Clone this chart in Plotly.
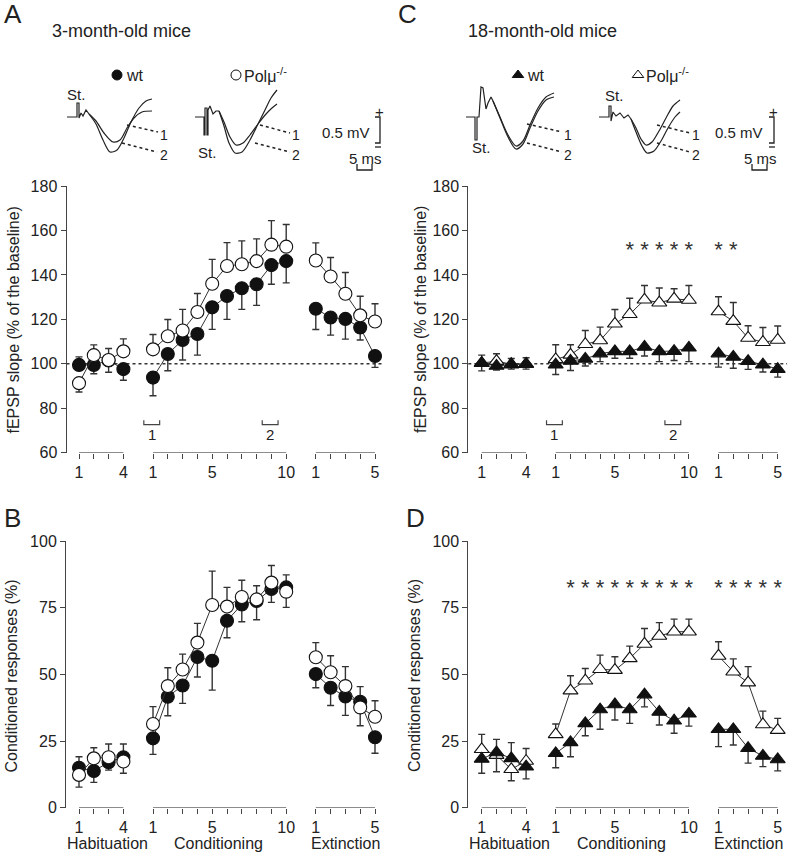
import plotly.graph_objects as go

FONT = "Liberation Sans, Arial, sans-serif"
TXT = "#222222"
AX = "#444444"
W, H = 788, 857

# ---------------- data ----------------
HAB = [1, 2, 3, 4]
COND = [1, 2, 3, 4, 5, 6, 7, 8, 9, 10]
EXT = [1, 2, 3, 4, 5]
HAB_LABELS = ["1", "", "", "4"]
COND_LABELS = ["1", "", "", "", "5", "", "", "", "", "10"]
EXT_LABELS = ["1", "", "", "", "5"]

# Panel A: fEPSP slope, 3-month-old (hab 1-4, cond 1-10, ext 1-5)
A_wt_mean = [99.5, 99.5, 101.5, 97.6,
             93.8, 104.4, 110.7, 113.4, 125.4, 130.5, 134.0, 135.8, 144.4, 146.2,
             124.8, 120.8, 120.2, 116.3, 103.5]
A_wt_eplus = [3.6, 0, 0, 0,
              0, 0, 0, 0, 0, 0, 0, 0, 0, 0,
              0, 0, 0, 0, 0]
A_wt_eminus = [0, 4.0, 5.3, 5.0,
               8.2, 7.5, 9.0, 9.5, 9.9, 10.5, 9.5, 9.5, 8.6, 9.8,
               9.4, 7.9, 9.1, 5.6, 5.1]
A_ko_mean = [91.3, 103.9, 101.7, 105.6,
             106.5, 112.4, 115.0, 123.3, 136.0, 144.0, 144.8, 146.2, 153.6, 152.7,
             146.5, 139.3, 131.5, 121.8, 119.0]
A_ko_eplus = [0, 4.6, 5.2, 5.6,
              6.7, 7.5, 9.5, 8.3, 11.0, 10.5, 10.5, 10.0, 10.8, 10.0,
              7.9, 8.5, 9.6, 8.6, 8.0]
A_ko_eminus = [4.0, 0, 0, 0,
               0, 0, 0, 0, 0, 0, 0, 0, 0, 0,
               0, 0, 0, 0, 0]

# Panel B: conditioned responses, 3-month-old
B_wt_mean = [15.0, 13.75, 17.0, 18.9,
             26.0, 41.6, 45.8, 56.5, 55.1, 70.1, 76.2, 77.5, 82.0, 82.6,
             50.1, 45.0, 41.7, 39.7, 26.4]
B_wt_eplus = [4.1, 0, 0, 5.0,
              0, 0, 0, 0, 0, 0, 0, 0, 0, 4.7,
              0, 0, 0, 5.7, 0]
B_wt_eminus = [0, 4.25, 2.9, 0,
               6.0, 7.1, 6.7, 7.5, 11.0, 6.4, 6.5, 7.0, 5.0, 0,
               5.1, 6.7, 7.1, 0, 6.0]
B_ko_mean = [12.3, 18.5, 18.9, 17.3,
             31.4, 45.6, 51.8, 61.9, 76.0, 75.4, 79.0, 78.1, 84.4, 81.0,
             56.4, 50.8, 45.6, 37.6, 34.1]
B_ko_eplus = [0, 4.0, 5.0, 0,
              6.5, 6.9, 5.8, 7.2, 12.7, 7.2, 6.3, 5.1, 6.4, 0,
              5.5, 6.2, 7.3, 0, 6.0]
B_ko_eminus = [4.6, 0, 0, 4.4,
               0, 0, 0, 0, 0, 0, 0, 0, 0, 5.9,
               0, 0, 0, 6.9, 0]

# Panel C: fEPSP slope, 18-month-old
C_wt_mean = [100.3, 99.0, 99.6, 99.8,
             99.6, 101.3, 102.2, 104.6, 105.6, 105.6, 107.6, 105.6, 105.7, 107.2,
             104.6, 103.1, 101.2, 99.6, 97.6]
C_wt_eplus = [0] * 19
C_wt_eminus = [3.5, 1.8, 2.0, 2.2,
               4.4, 4.3, 3.2, 3.6, 3.1, 3.1, 4.1, 4.6, 4.2, 6.2,
               6.1, 5.1, 3.7, 3.3, 3.6]
C_ko_mean = [100.3, 101.2, 99.8, 100.0,
             102.0, 104.0, 108.8, 110.5, 118.0, 122.3, 128.8, 127.5, 129.2, 128.7,
             123.5, 119.2, 111.6, 109.7, 110.7]
C_ko_eplus = [3.6, 3.3, 2.6, 2.7,
              6.6, 4.6, 6.2, 6.0, 6.4, 7.2, 6.4, 6.6, 4.6, 6.5,
              6.7, 8.4, 5.5, 6.6, 6.3]
C_ko_eminus = [0] * 19

# Panel D: conditioned responses, 18-month-old
D_wt_mean = [18.3, 20.7, 18.5, 15.4,
             20.4, 24.5, 31.6, 36.8, 38.7, 36.8, 42.4, 35.9, 32.6, 35.2,
             29.4, 29.4, 22.3, 19.4, 18.1]
D_wt_eplus = [0, 0, 5.9, 0,
              0, 0, 0, 0, 0, 0, 0, 0, 0, 0,
              0, 0, 0, 0, 0]
D_wt_eminus = [5.4, 7.2, 0, 4.6,
               5.4, 5.4, 4.6, 7.4, 5.8, 5.2, 4.6, 4.9, 4.7, 4.6,
               6.5, 5.9, 5.6, 4.0, 4.3]
D_ko_mean = [21.9, 19.7, 14.4, 17.5,
             27.5, 43.9, 47.6, 51.9, 51.6, 56.0, 61.4, 64.4, 66.0, 66.0,
             56.9, 51.0, 46.9, 31.2, 29.1]
D_ko_eplus = [5.6, 5.9, 0, 4.7,
              3.9, 5.6, 4.6, 5.3, 5.0, 4.6, 5.8, 5.0, 4.7, 4.7,
              5.3, 4.8, 6.0, 5.0, 4.4]
D_ko_eminus = [0, 0, 4.3, 0,
               0, 0, 0, 0, 0, 0, 0, 0, 0, 0,
               0, 0, 0, 0, 0]

# significance marks (session numbers)
C_star_cond = [6, 7, 8, 9, 10]
C_star_ext = [1, 2]
D_star_cond = [2, 3, 4, 5, 6, 7, 8, 9, 10]
D_star_ext = [1, 2, 3, 4, 5]

# ---------------- positions on broken axis ----------------
GAP = 1
hab_pos = [s - 1 for s in HAB]
cond_pos = [hab_pos[-1] + 1 + GAP + (s - 1) for s in COND]
ext_pos = [cond_pos[-1] + 1 + GAP + (s - 1) for s in EXT]
ALL_POS = hab_pos + cond_pos + ext_pos
ALL_TXT = HAB_LABELS + COND_LABELS + EXT_LABELS
MAJ_POS = [p for p, t in zip(ALL_POS, ALL_TXT) if t]
MAJ_TXT = [t for t in ALL_TXT if t]
MIN_POS = [p for p, t in zip(ALL_POS, ALL_TXT) if not t]


def gapped(v):
    n1, n2 = len(HAB), len(HAB) + len(COND)
    return list(v[:n1]) + [None] + list(v[n1:n2]) + [None] + list(v[n2:])


XG = gapped(ALL_POS)


def PX(x):
    return x / W


def PY(y):
    return 1 - y / H


def note(x, y, text, size=16, xa="center", ya="middle", xref="paper", yref="paper", angle=0):
    return dict(xref=xref, yref=yref, x=x, y=y, text=text, showarrow=False,
                xanchor=xa, yanchor=ya, textangle=angle,
                font=dict(size=size, color=TXT, family=FONT))


STEP = 14.8
panels = {
    "A": dict(xa="x", ya="y", left=66.5, right=383.0, x0=79.0, top=186.0, bottom=452.7,
              yr=[60, 180], yt=[60, 80, 100, 120, 140, 160, 180]),
    "B": dict(xa="x2", ya="y2", left=66.0, right=383.0, x0=79.0, top=541.0, bottom=807.7,
              yr=[0, 100], yt=[0, 25, 50, 75, 100]),
    "C": dict(xa="x3", ya="y3", left=468.3, right=787.0, x0=481.7, top=186.0, bottom=452.7,
              yr=[60, 180], yt=[60, 80, 100, 120, 140, 160, 180]),
    "D": dict(xa="x4", ya="y4", left=468.3, right=787.0, x0=481.7, top=541.0, bottom=807.7,
              yr=[0, 100], yt=[0, 25, 50, 75, 100]),
}

fig = go.Figure()
layout = dict(width=W, height=H, margin=dict(l=0, r=0, t=0, b=0, autoexpand=False),
              paper_bgcolor="white", plot_bgcolor="rgba(0,0,0,0)", showlegend=False,
              font=dict(family=FONT, color=TXT, size=16))
shapes = []
annotations = []

for key, p in panels.items():
    xr = [(p["left"] - p["x0"]) / STEP, (p["right"] - p["x0"]) / STEP]
    xname = "xaxis" + p["xa"][1:]
    yname = "yaxis" + p["ya"][1:]
    layout[xname] = dict(domain=[PX(p["left"]), PX(p["right"])], range=xr, anchor=p["ya"],
                         tickmode="array", tickvals=MAJ_POS, ticktext=MAJ_TXT,
                         ticks="outside", ticklen=5, tickwidth=1, tickcolor=AX,
                         minor=dict(tickmode="array", tickvals=MIN_POS, ticks="outside",
                                    ticklen=5, tickwidth=1, tickcolor=AX, showgrid=False),
                         showline=False, showgrid=False, zeroline=False,
                         tickfont=dict(size=16, color=TXT, family=FONT),
                         automargin=False, fixedrange=True)
    layout[yname] = dict(domain=[PY(p["bottom"]), PY(p["top"])], range=p["yr"], anchor=p["xa"],
                         tickvals=p["yt"], ticks="outside", ticklen=5, tickwidth=1,
                         tickcolor=AX, showline=True, linecolor=AX, linewidth=1,
                         showgrid=False, zeroline=False, automargin=False,
                         tickfont=dict(size=16, color=TXT, family=FONT), fixedrange=True)
    # broken x-axis baseline segments
    for seg in (hab_pos, cond_pos, ext_pos):
        shapes.append(dict(type="line", xref=p["xa"], yref=p["ya"], x0=seg[0], x1=seg[-1],
                           y0=p["yr"][0], y1=p["yr"][0], line=dict(color=AX, width=1)))

# baseline dotted lines (100 %)
for key in ("A", "C"):
    p = panels[key]
    shapes.append(dict(type="line", xref=p["xa"] + " domain", yref=p["ya"], x0=0, x1=1,
                       y0=100, y1=100, layer="below",
                       line=dict(color="#333333", width=1.6, dash="dot")))

# brackets marking sessions used for sample records
for key in ("A", "C"):
    p = panels[key]
    for c, lab in ((cond_pos[0], "1"), (cond_pos[8], "2")):
        a, b = c - 0.62, c + 0.45
        shapes.append(dict(type="path", xref=p["xa"], yref=p["ya"],
                           path=f"M {a},74.6 L {a},72.6 L {b},72.6 L {b},74.6",
                           line=dict(color=AX, width=1.2)))
        annotations.append(note((a + b) / 2, 68, lab, 15, xref=p["xa"], yref=p["ya"]))


def add_series(key, mean, ep, em, symbol, filled):
    p = panels[key]
    fig.add_trace(go.Scatter(
        x=XG, y=gapped(mean), xaxis=p["xa"], yaxis=p["ya"], mode="lines+markers",
        line=dict(color="#333333", width=1),
        marker=dict(symbol=symbol, size=13,
                    color="#111111" if filled else "white",
                    line=dict(color="#111111", width=1.1)),
        error_y=dict(type="data", symmetric=False, array=gapped(ep), arrayminus=gapped(em),
                     color="#333333", thickness=1.4, width=3.5),
        cliponaxis=False, hoverinfo="skip"))


add_series("A", A_wt_mean, A_wt_eplus, A_wt_eminus, "circle", True)
add_series("A", A_ko_mean, A_ko_eplus, A_ko_eminus, "circle", False)
add_series("B", B_wt_mean, B_wt_eplus, B_wt_eminus, "circle", True)
add_series("B", B_ko_mean, B_ko_eplus, B_ko_eminus, "circle", False)
add_series("C", C_ko_mean, C_ko_eplus, C_ko_eminus, "triangle-up", False)
add_series("C", C_wt_mean, C_wt_eplus, C_wt_eminus, "triangle-up", True)
add_series("D", D_ko_mean, D_ko_eplus, D_ko_eminus, "triangle-up", False)
add_series("D", D_wt_mean, D_wt_eplus, D_wt_eminus, "triangle-up", True)


def add_stars(key, cond_s, ext_s, level):
    p = panels[key]
    xs = [cond_pos[s - 1] for s in cond_s] + [ext_pos[s - 1] for s in ext_s]
    fig.add_trace(go.Scatter(x=xs, y=[level] * len(xs), xaxis=p["xa"], yaxis=p["ya"],
                             mode="text", text=["*"] * len(xs),
                             textfont=dict(size=22, color="#333333", family=FONT),
                             cliponaxis=False, hoverinfo="skip"))


add_stars("C", C_star_cond, C_star_ext, 150.6)
add_stars("D", D_star_cond, D_star_ext, 81.7)

# phase labels under B and D
for key in ("B", "D"):
    p = panels[key]
    for xpos, lab in ((1.9, "Habituation"), (9.45, "Conditioning"), (18.0, "Extinction")):
        annotations.append(note(xpos, PY(843), lab, 16, xref=p["xa"]))

# y-axis titles
for xc, yc, t in ((12.5, 320, "fEPSP slope (% of the baseline)"),
                  (420, 320, "fEPSP slope (% of the baseline)"),
                  (10.5, 676, "Conditioned responses (%)"),
                  (414, 676, "Conditioned responses (%)")):
    annotations.append(note(PX(xc), PY(yc), t, 16, angle=-90))

# panel letters and headers
for xc, yc, t in ((13, 14, "A"), (407, 14, "C"), (12, 518, "B"), (415, 518, "D")):
    annotations.append(note(PX(xc), PY(yc), t, 26))
for xl, t in ((50, "3-month-old mice"), (466, "18-month-old mice")):
    annotations.append(note(PX(xl), PY(31), t, 18, xa="left"))

# ---------------- inset sample records (decorative, pixel space) ----------------
layout["xaxis5"] = dict(domain=[0, 1], range=[0, W], visible=False, fixedrange=True, anchor="y5")
layout["yaxis5"] = dict(domain=[0, 1], range=[H, 0], visible=False, fixedrange=True, anchor="x5")


def pline(pts, shape="linear", dash=None, width=1.2):
    fig.add_trace(go.Scatter(x=[q[0] for q in pts], y=[q[1] for q in pts], xaxis="x5", yaxis="y5",
                             mode="lines", line=dict(color="#222222", width=width, shape=shape,
                                                     dash=dash, smoothing=0.8),
                             cliponaxis=False, hoverinfo="skip"))


# A, wt
pline([(67, 117), (77, 117), (77, 103), (79, 103), (79, 118), (81, 113), (83, 116), (86, 110), (89, 114)])
pline([(89, 114), (96, 121), (104, 133), (113, 142), (120, 140), (127, 128), (134, 118), (142, 112), (152, 111)], "spline")
pline([(89, 114), (96, 124), (103, 140), (110, 152), (117, 150), (124, 138), (131, 122), (139, 108), (146, 101), (152, 99)], "spline")
# A, Pol mu
pline([(195, 117), (204, 117), (204, 135), (205, 135), (205, 108), (207, 108), (207, 135), (208, 135), (208, 110), (210, 106), (213, 114), (216, 111), (219, 111)])
pline([(219, 111), (224, 122), (230, 137), (236, 145), (243, 143), (250, 135), (258, 124), (266, 114), (272, 108), (277, 104)], "spline")
pline([(219, 111), (224, 126), (229, 143), (235, 153), (242, 152), (250, 140), (258, 124), (265, 110), (271, 98), (277, 90)], "spline")
# C, wt
pline([(466, 117), (475, 117), (475, 140), (477, 140), (477, 117), (479, 117), (481, 87), (483, 88), (486, 109), (488, 103), (491, 97), (493, 101)])
pline([(493, 101), (500, 117), (508, 135), (516, 146), (523, 141), (530, 125), (538, 108), (546, 97), (554, 93)], "spline")
pline([(493, 101), (500, 118), (508, 137), (516, 149), (523, 144), (530, 128), (538, 111), (546, 100), (554, 97)], "spline")
# C, Pol mu
pline([(599, 117), (609, 117), (609, 106), (611, 106), (611, 121), (613, 112), (616, 116), (620, 113), (624, 118), (628, 115), (631, 119)])
pline([(631, 119), (636, 128), (641, 139), (646, 145), (652, 142), (659, 131), (666, 118), (673, 106), (680, 100)], "spline")
pline([(631, 119), (636, 132), (642, 146), (647, 153), (654, 151), (661, 141), (668, 128), (675, 117), (680, 112)], "spline")

# dotted pointers to records 1 and 2
for (x0, y0, x1, y1, lx, ly, lab) in (
        (127, 125, 158, 132, 164, 135, "1"), (122, 143, 157, 152, 164, 155, "2"),
        (260, 125, 290, 133, 296, 135, "1"), (255, 143, 290, 152, 296, 155, "2"),
        (527, 124, 562, 132, 568, 135, "1"), (527, 143, 562, 152, 568, 155, "2"),
        (657, 125, 690, 133, 696, 135, "1"), (657, 143, 690, 152, 696, 155, "2")):
    pline([(x0, y0), (x1, y1)], dash="dot", width=1.5)
    annotations.append(note(PX(lx), PY(ly), lab, 14))

# stimulus labels
for xc, yc in ((76, 94), (207, 152), (481, 148), (614, 95)):
    annotations.append(note(PX(xc), PY(yc), "St.", 15))

# calibration bars
for bx, tx, sx in ((380, 372, 365), (774, 765, 760)):
    pline([(bx - 5, 117), (bx, 117), (bx, 143), (bx - 5, 143)], width=1.3)
    pline([(bx - 5, 147), (bx + 1, 147)], width=1.3)
    annotations.append(note(PX(bx - 1), PY(111), "+", 15))
    annotations.append(note(PX(tx), PY(132), "0.5 mV", 15, xa="right"))
    annotations.append(note(PX(sx), PY(158), "5 ms", 15))
    pline([(sx - 8, 164), (sx - 8, 170), (sx + 7, 170), (sx + 7, 164)], width=1.3)

# legend symbols and labels
for (mx, sym, filled, lx, lab) in ((117, "circle", True, 124, "wt"),
                                   (236, "circle", False, 242, "Polμ<sup>-/-</sup>"),
                                   (518, "triangle-up", True, 525, "wt"),
                                   (638, "triangle-up", False, 644, "Polμ<sup>-/-</sup>")):
    fig.add_trace(go.Scatter(x=[mx], y=[75], xaxis="x5", yaxis="y5", mode="markers",
                             marker=dict(symbol=sym, size=10, color="#111111" if filled else "white",
                                         line=dict(color="#111111", width=1)),
                             cliponaxis=False, hoverinfo="skip"))
    annotations.append(note(PX(lx), PY(75), lab, 16, xa="left"))

layout["shapes"] = shapes
layout["annotations"] = annotations
fig.update_layout(**layout)
fig.write_html("out.html", config={"displayModeBar": False},
               post_script="document.body.style.margin='0px';document.body.style.overflow='hidden';")
